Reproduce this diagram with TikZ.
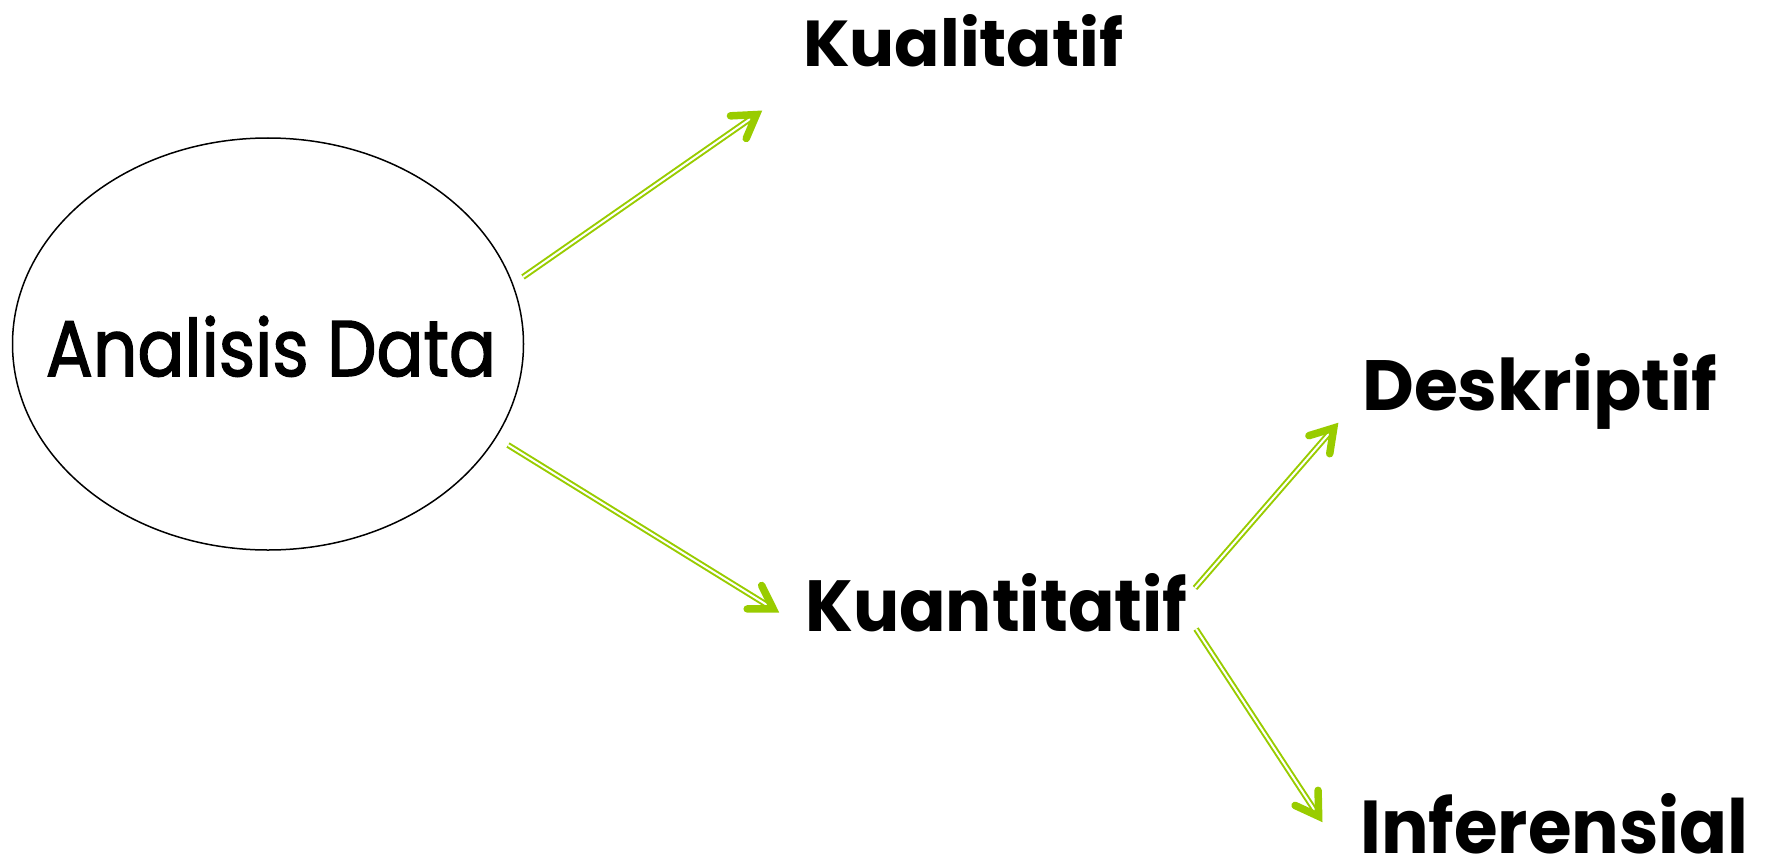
\documentclass[tikz,border=0pt]{standalone}
\usepackage{fontspec}
\setmainfont{Poppins}
\newfontfamily\topicfont{Poppins}[FakeBold=2]
\usepackage{graphicx}
\usetikzlibrary{calc,shapes.geometric}
\definecolor{leaf}{HTML}{99CC00}
\begin{document}
\begin{tikzpicture}[x=1pt,y=-1pt,
  txt/.style={anchor=base west, inner sep=0pt, font=\bfseries},
  shaft/.style={draw=leaf, line width=2pt, double=white, double distance=2pt, shorten >=8pt},
  head/.style={draw=leaf, line width=7.5pt, line cap=round, line join=miter},
]
\useasboundingbox (0,0) rectangle (1771,861);

% central topic: outline and its caption
\node[ellipse, draw, line width=1.5pt, minimum width=511pt, minimum height=412pt, inner sep=0pt]
  (ad) at (268,344) {};
\node[inner sep=0pt, anchor=base] (adtxt) at (271,376) {\resizebox{450pt}{60pt}{\topicfont Analisis Data}};

% branch labels
\node[txt] (kual) at (803,67)  {\resizebox{320pt}{52pt}{Kualitatif}};
\node[txt] (kuan) at (805,631) {\resizebox{382pt}{58pt}{Kuantitatif}};
\node[txt] (desk) at (1362,410) {\resizebox{355pt}{57pt}{Deskriptif}};
\node[txt] (infe) at (1360,853) {\resizebox{388pt}{60pt}{Inferensial}};

% connector ends
\coordinate (s1) at (523,277);  \coordinate (t1) at (763,110);
\coordinate (s2) at (508,445);  \coordinate (t2) at (780,613);
\coordinate (s3) at (1195,588); \coordinate (t3) at (1339,422);
\coordinate (s4) at (1196,629); \coordinate (t4) at (1323,823);

\foreach \i in {1,...,4}{
  \coordinate (v\i) at ($(t\i)!8pt!(s\i)$);
  \draw[shaft] (s\i) -- (t\i);
  \draw[head] ($(v\i)!26pt!32:(s\i)$) -- (v\i) -- ($(v\i)!26pt!-32:(s\i)$);
}
\end{tikzpicture}
\end{document}
